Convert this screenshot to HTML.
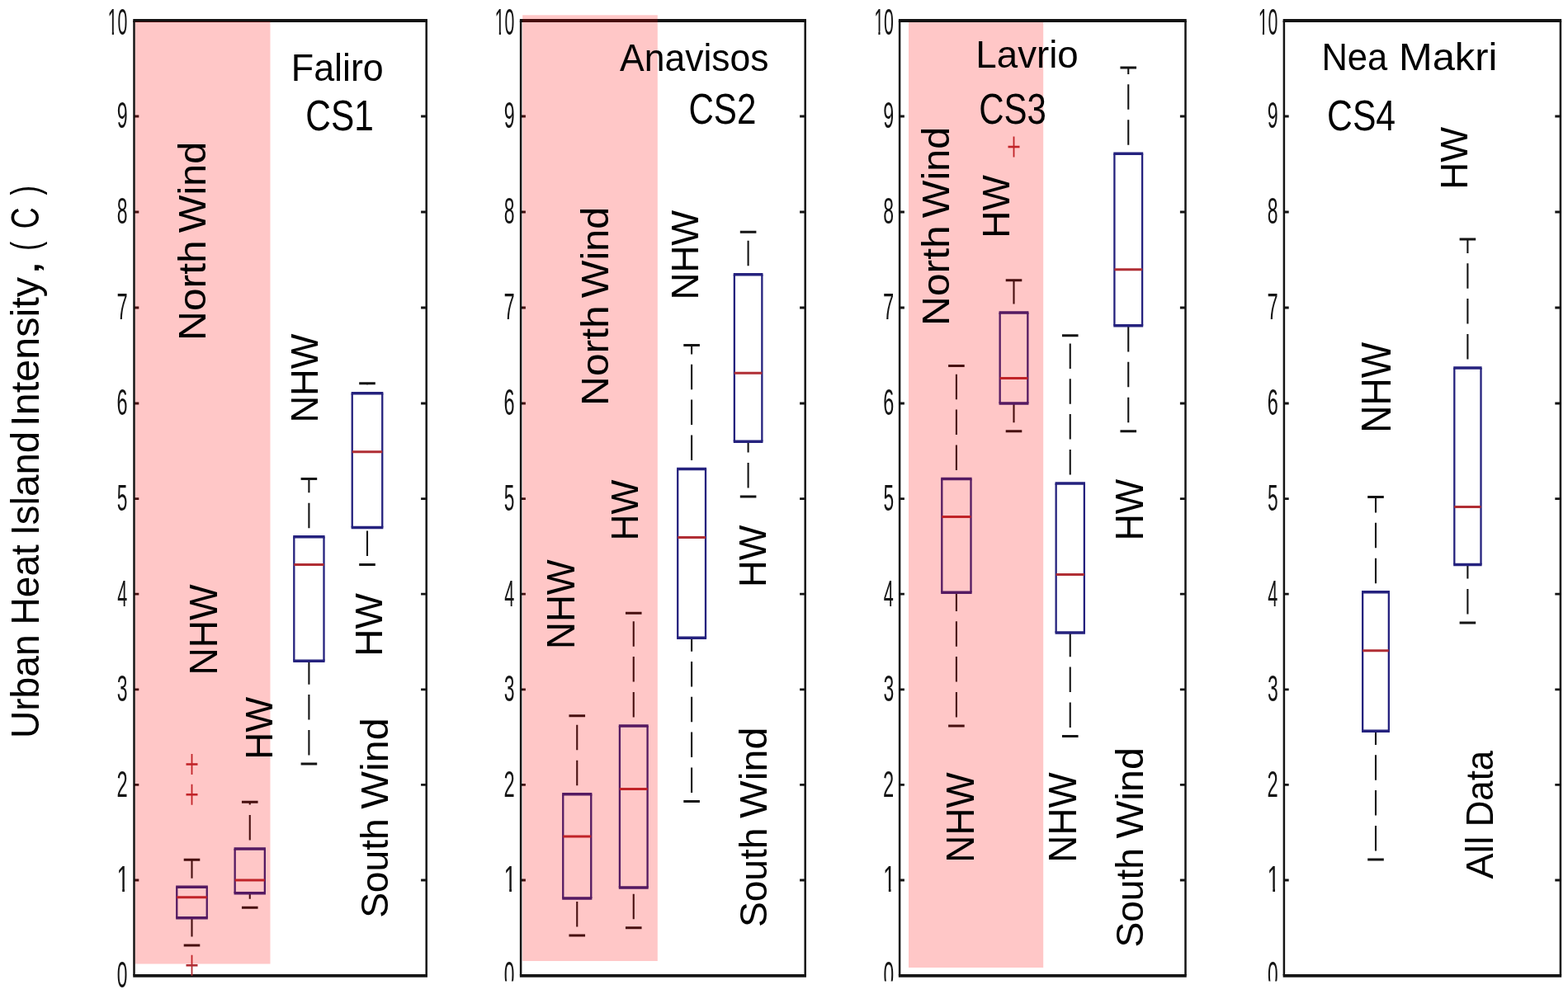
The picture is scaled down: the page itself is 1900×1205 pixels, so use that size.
<!DOCTYPE html>
<html lang="en">
<head>
<meta charset="utf-8">
<title>Urban Heat Island Intensity box plots</title>
<style>
html,body{margin:0;padding:0;background:#fff;}
body{width:1900px;height:1205px;overflow:hidden;}
svg{display:block;}
svg text{font-family:"Liberation Sans",sans-serif;font-size:200px;white-space:pre;}
svg path{fill:none;}
.tl{fill:#141414;}
.axv{stroke:#141414;stroke-width:2.5;}
.axh{stroke:#141414;stroke-width:3.8;}
.tick{stroke:#141414;stroke-width:2.8;}
.wh{stroke:#141414;stroke-width:2.1;}
.cap{stroke:#141414;stroke-width:3.2;}
.bv{stroke:#25227e;stroke-width:2.3;}
.bh{stroke:#25227e;stroke-width:3.3;}
.med{stroke:#b02e34;stroke-width:3.0;}
.oh{stroke:#b02e34;stroke-width:2.6;}
.ov{stroke:#b02e34;stroke-width:1.8;}
.pink{fill:#ff0000;fill-opacity:0.22;}
</style>
</head>
<body>
<svg width="1900" height="1205" viewBox="0 0 1900 1205">
<defs><clipPath id="clip0"><rect x="0" y="0" width="1900" height="1189.5"/></clipPath><clipPath id="c1"><rect x="0" y="-160" width="120" height="140"/><rect x="49" y="-21" width="20" height="24"/></clipPath><clipPath id="c10"><rect x="0" y="-160" width="240" height="140"/><rect x="49" y="-21" width="20" height="24"/><rect x="108" y="-21" width="130" height="34"/></clipPath></defs>
<rect width="1900" height="1205" fill="#fff"/>
<g id="ylabel"><text transform="matrix(0 -0.23075 0.24058 0 47.00 895.06)" fill="#000">Urban</text><text transform="matrix(0 -0.23037 0.24058 0 47.00 757.39)" fill="#000">Heat</text><text transform="matrix(0 -0.23718 0.24058 0 47.00 649.37)" fill="#000">Island</text><text transform="matrix(0 -0.24311 0.24058 0 47.00 516.88)" fill="#000">Intensity</text><text transform="matrix(0 -0.33684 0.24058 0 47.00 334.10)" fill="#000">,</text><text transform="matrix(0 -0.16604 0.24058 0 47.00 303.79)" fill="#000">(</text><text transform="matrix(0 -0.17857 0.24058 0 47.00 277.29)" fill="#000">C</text><text transform="matrix(0 -0.17308 0.24058 0 47.00 236.45)" fill="#000">)</text></g>
<g id="panel1">
<path class="axv" d="M162.50 25.00V1182.60M516.70 25.00V1182.60"/>
<path class="axh" d="M161.25 25.00H517.95M161.25 1182.90H517.95"/>
<path class="tick" d="M162.50 1182.60h5.8M516.70 1182.60h-6.6M162.50 1067.00h5.8M516.70 1067.00h-6.6M162.50 951.40h5.8M516.70 951.40h-6.6M162.50 835.80h5.8M516.70 835.80h-6.6M162.50 720.20h5.8M516.70 720.20h-6.6M162.50 604.60h5.8M516.70 604.60h-6.6M162.50 489.00h5.8M516.70 489.00h-6.6M162.50 373.00h5.8M516.70 373.00h-6.6M162.50 257.00h5.8M516.70 257.00h-6.6M162.50 141.00h5.8M516.70 141.00h-6.6M162.50 25.00h5.8M516.70 25.00h-6.6"/>
<text class="tl" transform="matrix(0.11368 0 0 0.22535 141.79 1196.95)">0</text>
<text class="tl" transform="matrix(0.13673 0 0 0.22535 141.50 1081.35)" clip-path="url(#c1)">1</text>
<text class="tl" transform="matrix(0.11868 0 0 0.22535 141.51 965.75)">2</text>
<text class="tl" transform="matrix(0.11489 0 0 0.22535 141.78 850.15)">3</text>
<text class="tl" transform="matrix(0.10800 0 0 0.22535 142.16 734.55)">4</text>
<text class="tl" transform="matrix(0.11368 0 0 0.22535 141.79 618.95)">5</text>
<text class="tl" transform="matrix(0.11739 0 0 0.22535 141.53 503.35)">6</text>
<text class="tl" transform="matrix(0.11868 0 0 0.22535 141.51 387.35)">7</text>
<text class="tl" transform="matrix(0.11489 0 0 0.22535 141.67 271.35)">8</text>
<text class="tl" transform="matrix(0.11613 0 0 0.22535 141.65 155.35)">9</text>
<text class="tl" transform="matrix(0.10663 0 0 0.22535 130.57 42.05)" clip-path="url(#c10)">10</text>
<path class="wh" d="M232.50 1064.65V1042.25M232.50 1135.40V1112.75"/>
<path class="cap" d="M222.70 1042.25h19.6M222.70 1146.00h19.6"/>
<path class="bv" d="M214.25 1075.25V1112.75M250.75 1075.25V1112.75"/>
<path class="bh" d="M213.15 1075.25H251.85M213.15 1112.75H251.85"/>
<path class="med" d="M214.25 1087.75H250.75"/>
<path class="oh" d="M225.50 926.50h14"/><path class="ov" d="M232.50 914.00v25"/>
<path class="oh" d="M225.50 963.25h14"/><path class="ov" d="M232.50 950.75v25"/>
<path class="oh" d="M225.50 1170.25h14"/><path class="ov" d="M232.50 1157.75v25"/>
<path class="wh" d="M302.75 1018.40V987.90M302.75 975.60V972.25M302.75 1089.65V1082.75"/>
<path class="cap" d="M292.95 972.25h19.6M292.95 1100.25h19.6"/>
<path class="bv" d="M284.65 1029.00V1082.75M320.85 1029.00V1082.75"/>
<path class="bh" d="M283.55 1029.00H321.95M283.55 1082.75H321.95"/>
<path class="med" d="M284.65 1067.00H320.85"/>
<path class="wh" d="M374.40 640.15V609.65M374.40 597.35V580.50M374.40 915.40V884.90M374.40 872.60V842.10M374.40 829.80V801.25"/>
<path class="cap" d="M364.60 580.50h19.6M364.60 926.00h19.6"/>
<path class="bv" d="M356.30 650.75V801.25M392.50 650.75V801.25"/>
<path class="bh" d="M355.20 650.75H393.60M355.20 801.25H393.60"/>
<path class="med" d="M356.30 684.50H392.50"/>
<path class="wh" d="M445.00 466.15V464.75M445.00 673.90V643.40"/>
<path class="cap" d="M435.20 464.75h19.6M435.20 684.50h19.6"/>
<path class="bv" d="M426.75 476.75V639.50M463.25 476.75V639.50"/>
<path class="bh" d="M425.65 476.75H464.35M425.65 639.50H464.35"/>
<path class="med" d="M426.75 547.75H463.25"/>
<rect class="pink" x="163.8" y="26.0" width="163.70" height="1142.50"/>
<text transform="matrix(0.22395 0 0 0.23333 352.82 97.90)" fill="#000">Faliro</text>
<text transform="matrix(0.21192 0 0 0.25725 370.28 157.80)" fill="#000">CS1</text>
<text transform="matrix(0 -0.24870 0.23478 0 248.60 412.98)" fill="#000">North</text><text transform="matrix(0 -0.24208 0.23478 0 248.60 282.14)" fill="#000">Wind</text>
<text transform="matrix(0 -0.23059 0.23623 0 262.80 818.49)" fill="#000">NHW</text>
<text transform="matrix(0 -0.22785 0.23478 0 329.60 920.65)" fill="#000">HW</text>
<text transform="matrix(0 -0.22603 0.23551 0 385.00 512.62)" fill="#000">NHW</text>
<text transform="matrix(0 -0.22943 0.23551 0 463.30 795.67)" fill="#000">HW</text>
<text transform="matrix(0 -0.23054 0.23478 0 469.60 1112.87)" fill="#000">South</text><text transform="matrix(0 -0.24208 0.23478 0 469.60 980.74)" fill="#000">Wind</text>
</g>
<g id="panel2">
<path class="axv" d="M631.10 25.00V1182.60M975.70 25.00V1182.60"/>
<path class="axh" d="M629.85 25.00H976.95M629.85 1182.90H976.95"/>
<path class="tick" d="M631.10 1182.60h5.8M975.70 1182.60h-6.6M631.10 1067.00h5.8M975.70 1067.00h-6.6M631.10 951.40h5.8M975.70 951.40h-6.6M631.10 835.80h5.8M975.70 835.80h-6.6M631.10 720.20h5.8M975.70 720.20h-6.6M631.10 604.60h5.8M975.70 604.60h-6.6M631.10 489.00h5.8M975.70 489.00h-6.6M631.10 373.00h5.8M975.70 373.00h-6.6M631.10 257.00h5.8M975.70 257.00h-6.6M631.10 141.00h5.8M975.70 141.00h-6.6M631.10 25.00h5.8M975.70 25.00h-6.6"/>
<g clip-path="url(#clip0)"><text class="tl" transform="matrix(0.11368 0 0 0.22535 610.79 1196.95)">0</text></g>
<text class="tl" transform="matrix(0.13673 0 0 0.22535 610.50 1081.35)" clip-path="url(#c1)">1</text>
<text class="tl" transform="matrix(0.11868 0 0 0.22535 610.51 965.75)">2</text>
<text class="tl" transform="matrix(0.11489 0 0 0.22535 610.78 850.15)">3</text>
<text class="tl" transform="matrix(0.10800 0 0 0.22535 611.16 734.55)">4</text>
<text class="tl" transform="matrix(0.11368 0 0 0.22535 610.79 618.95)">5</text>
<text class="tl" transform="matrix(0.11739 0 0 0.22535 610.53 503.35)">6</text>
<text class="tl" transform="matrix(0.11868 0 0 0.22535 610.51 387.35)">7</text>
<text class="tl" transform="matrix(0.11489 0 0 0.22535 610.67 271.35)">8</text>
<text class="tl" transform="matrix(0.11613 0 0 0.22535 610.65 155.35)">9</text>
<text class="tl" transform="matrix(0.10663 0 0 0.22535 599.57 42.05)" clip-path="url(#c10)">10</text>
<path class="wh" d="M699.25 952.15V921.65M699.25 909.35V878.85M699.25 1123.40V1092.90"/>
<path class="cap" d="M689.45 867.75h19.6M689.45 1134.00h19.6"/>
<path class="bv" d="M682.25 962.75V1089.00M716.25 962.75V1089.00"/>
<path class="bh" d="M681.15 962.75H717.35M681.15 1089.00H717.35"/>
<path class="med" d="M682.25 1014.00H716.25"/>
<path class="wh" d="M767.75 869.40V838.90M767.75 826.60V796.10M767.75 783.80V753.30M767.75 1114.15V1083.65"/>
<path class="cap" d="M757.95 743.25h19.6M757.95 1124.75h19.6"/>
<path class="bv" d="M750.90 880.00V1076.00M784.60 880.00V1076.00"/>
<path class="bh" d="M749.80 880.00H785.70M749.80 1076.00H785.70"/>
<path class="med" d="M750.90 956.50H784.60"/>
<path class="wh" d="M838.10 557.90V527.40M838.10 515.10V484.60M838.10 472.30V441.80M838.10 429.50V418.50M838.10 960.90V930.40M838.10 918.10V887.60M838.10 875.30V844.80M838.10 832.50V802.00M838.10 789.70V773.25"/>
<path class="cap" d="M828.30 418.50h19.6M828.30 971.50h19.6"/>
<path class="bv" d="M821.20 568.50V773.25M855.00 568.50V773.25"/>
<path class="bh" d="M820.10 568.50H856.10M820.10 773.25H856.10"/>
<path class="med" d="M821.20 651.50H855.00"/>
<path class="wh" d="M906.60 322.15V291.65M906.60 591.40V560.90M906.60 548.60V535.25"/>
<path class="cap" d="M896.80 281.25h19.6M896.80 602.00h19.6"/>
<path class="bv" d="M889.85 332.75V535.25M923.35 332.75V535.25"/>
<path class="bh" d="M888.75 332.75H924.45M888.75 535.25H924.45"/>
<path class="med" d="M889.85 452.25H923.35"/>
<rect class="pink" x="633.2" y="18.3" width="163.60" height="1146.70"/>
<text transform="matrix(0.22242 0 0 0.23043 751.08 85.70)" fill="#000">Anavisos</text>
<text transform="matrix(0.21057 0 0 0.25652 834.39 149.60)" fill="#000">CS2</text>
<text transform="matrix(0 -0.24870 0.23478 0 737.20 491.98)" fill="#000">North</text><text transform="matrix(0 -0.24208 0.23478 0 737.20 361.14)" fill="#000">Wind</text>
<text transform="matrix(0 -0.22733 0.23551 0 846.30 363.44)" fill="#000">NHW</text>
<text transform="matrix(0 -0.22152 0.23551 0 773.00 655.54)" fill="#000">HW</text>
<text transform="matrix(0 -0.22777 0.24130 0 696.30 786.94)" fill="#000">NHW</text>
<text transform="matrix(0 -0.22563 0.23551 0 927.50 711.91)" fill="#000">HW</text>
<text transform="matrix(0 -0.23054 0.23478 0 928.60 1124.07)" fill="#000">South</text><text transform="matrix(0 -0.24208 0.23478 0 928.60 991.94)" fill="#000">Wind</text>
</g>
<g id="panel3">
<path class="axv" d="M1090.10 25.00V1182.60M1436.50 25.00V1182.60"/>
<path class="axh" d="M1088.85 25.00H1437.75M1088.85 1182.90H1437.75"/>
<path class="tick" d="M1090.10 1182.60h5.8M1436.50 1182.60h-6.6M1090.10 1067.00h5.8M1436.50 1067.00h-6.6M1090.10 951.40h5.8M1436.50 951.40h-6.6M1090.10 835.80h5.8M1436.50 835.80h-6.6M1090.10 720.20h5.8M1436.50 720.20h-6.6M1090.10 604.60h5.8M1436.50 604.60h-6.6M1090.10 489.00h5.8M1436.50 489.00h-6.6M1090.10 373.00h5.8M1436.50 373.00h-6.6M1090.10 257.00h5.8M1436.50 257.00h-6.6M1090.10 141.00h5.8M1436.50 141.00h-6.6M1090.10 25.00h5.8M1436.50 25.00h-6.6"/>
<g clip-path="url(#clip0)"><text class="tl" transform="matrix(0.11368 0 0 0.22535 1070.39 1196.95)">0</text></g>
<text class="tl" transform="matrix(0.13673 0 0 0.22535 1070.10 1081.35)" clip-path="url(#c1)">1</text>
<text class="tl" transform="matrix(0.11868 0 0 0.22535 1070.11 965.75)">2</text>
<text class="tl" transform="matrix(0.11489 0 0 0.22535 1070.38 850.15)">3</text>
<text class="tl" transform="matrix(0.10800 0 0 0.22535 1070.76 734.55)">4</text>
<text class="tl" transform="matrix(0.11368 0 0 0.22535 1070.39 618.95)">5</text>
<text class="tl" transform="matrix(0.11739 0 0 0.22535 1070.13 503.35)">6</text>
<text class="tl" transform="matrix(0.11868 0 0 0.22535 1070.11 387.35)">7</text>
<text class="tl" transform="matrix(0.11489 0 0 0.22535 1070.27 271.35)">8</text>
<text class="tl" transform="matrix(0.11613 0 0 0.22535 1070.25 155.35)">9</text>
<text class="tl" transform="matrix(0.10663 0 0 0.22535 1059.17 42.05)" clip-path="url(#c10)">10</text>
<path class="wh" d="M1158.90 569.90V539.40M1158.90 527.10V496.60M1158.90 484.30V453.80M1158.90 869.40V838.90M1158.90 826.60V796.10M1158.90 783.80V753.30M1158.90 741.00V718.25"/>
<path class="cap" d="M1149.10 443.50h19.6M1149.10 880.00h19.6"/>
<path class="bv" d="M1141.30 580.50V718.25M1176.50 580.50V718.25"/>
<path class="bh" d="M1140.20 580.50H1177.60M1140.20 718.25H1177.60"/>
<path class="med" d="M1141.30 626.50H1176.50"/>
<path class="wh" d="M1228.50 368.40V339.75M1228.50 512.15V489.00"/>
<path class="cap" d="M1218.70 339.75h19.6M1218.70 522.75h19.6"/>
<path class="bv" d="M1211.65 379.00V489.00M1245.35 379.00V489.00"/>
<path class="bh" d="M1210.55 379.00H1246.45M1210.55 489.00H1246.45"/>
<path class="med" d="M1211.65 458.50H1245.35"/>
<path class="oh" d="M1221.50 178.00h14"/><path class="ov" d="M1228.50 165.50v25"/>
<path class="wh" d="M1296.75 575.40V544.90M1296.75 532.60V502.10M1296.75 489.80V459.30M1296.75 447.00V416.50M1296.75 881.90V851.40M1296.75 839.10V808.60M1296.75 796.30V767.00"/>
<path class="cap" d="M1286.95 406.75h19.6M1286.95 892.50h19.6"/>
<path class="bv" d="M1279.65 586.00V767.00M1313.85 586.00V767.00"/>
<path class="bh" d="M1278.55 586.00H1314.95M1278.55 767.00H1314.95"/>
<path class="med" d="M1279.65 696.50H1313.85"/>
<path class="wh" d="M1367.25 175.65V145.15M1367.25 132.85V102.35M1367.25 90.05V82.00M1367.25 512.15V481.65M1367.25 469.35V438.85M1367.25 426.55V396.05"/>
<path class="cap" d="M1357.45 82.00h19.6M1357.45 522.75h19.6"/>
<path class="bv" d="M1350.40 186.25V394.75M1384.10 186.25V394.75"/>
<path class="bh" d="M1349.30 186.25H1385.20M1349.30 394.75H1385.20"/>
<path class="med" d="M1350.40 326.75H1384.10"/>
<rect class="pink" x="1101.0" y="27.0" width="163.20" height="1146.00"/>
<text transform="matrix(0.22846 0 0 0.23406 1182.34 82.30)" fill="#000">Lavrio</text>
<text transform="matrix(0.21000 0 0 0.25942 1186.20 149.90)" fill="#000">CS3</text>
<text transform="matrix(0 -0.24870 0.23478 0 1149.80 394.98)" fill="#000">North</text><text transform="matrix(0 -0.24208 0.23478 0 1149.80 264.14)" fill="#000">Wind</text>
<text transform="matrix(0 -0.22943 0.23551 0 1222.50 288.67)" fill="#000">HW</text>
<text transform="matrix(0 -0.22885 0.24420 0 1180.00 1045.66)" fill="#000">NHW</text>
<text transform="matrix(0 -0.22885 0.24493 0 1303.80 1045.66)" fill="#000">NHW</text>
<text transform="matrix(0 -0.22468 0.24420 0 1385.00 655.59)" fill="#000">HW</text>
<text transform="matrix(0 -0.23054 0.23478 0 1384.80 1148.57)" fill="#000">South</text><text transform="matrix(0 -0.24208 0.23478 0 1384.80 1016.44)" fill="#000">Wind</text>
</g>
<g id="panel4">
<path class="axv" d="M1555.90 25.00V1182.60M1890.90 25.00V1182.60"/>
<path class="axh" d="M1554.65 25.00H1892.15M1554.65 1182.90H1892.15"/>
<path class="tick" d="M1555.90 1182.60h5.8M1890.90 1182.60h-6.6M1555.90 1067.00h5.8M1890.90 1067.00h-6.6M1555.90 951.40h5.8M1890.90 951.40h-6.6M1555.90 835.80h5.8M1890.90 835.80h-6.6M1555.90 720.20h5.8M1890.90 720.20h-6.6M1555.90 604.60h5.8M1890.90 604.60h-6.6M1555.90 489.00h5.8M1890.90 489.00h-6.6M1555.90 373.00h5.8M1890.90 373.00h-6.6M1555.90 257.00h5.8M1890.90 257.00h-6.6M1555.90 141.00h5.8M1890.90 141.00h-6.6M1555.90 25.00h5.8M1890.90 25.00h-6.6"/>
<g clip-path="url(#clip0)"><text class="tl" transform="matrix(0.11368 0 0 0.22535 1535.89 1196.95)">0</text></g>
<text class="tl" transform="matrix(0.13673 0 0 0.22535 1535.60 1081.35)" clip-path="url(#c1)">1</text>
<text class="tl" transform="matrix(0.11868 0 0 0.22535 1535.61 965.75)">2</text>
<text class="tl" transform="matrix(0.11489 0 0 0.22535 1535.88 850.15)">3</text>
<text class="tl" transform="matrix(0.10800 0 0 0.22535 1536.26 734.55)">4</text>
<text class="tl" transform="matrix(0.11368 0 0 0.22535 1535.89 618.95)">5</text>
<text class="tl" transform="matrix(0.11739 0 0 0.22535 1535.63 503.35)">6</text>
<text class="tl" transform="matrix(0.11868 0 0 0.22535 1535.61 387.35)">7</text>
<text class="tl" transform="matrix(0.11489 0 0 0.22535 1535.77 271.35)">8</text>
<text class="tl" transform="matrix(0.11613 0 0 0.22535 1535.75 155.35)">9</text>
<text class="tl" transform="matrix(0.10663 0 0 0.22535 1524.67 42.05)" clip-path="url(#c10)">10</text>
<path class="wh" d="M1667.00 707.15V676.65M1667.00 664.35V633.85M1667.00 621.55V602.50M1667.00 1031.40V1000.90M1667.00 988.60V958.10M1667.00 945.80V915.30M1667.00 903.00V886.25"/>
<path class="cap" d="M1657.20 602.50h19.6M1657.20 1042.00h19.6"/>
<path class="bv" d="M1651.15 717.75V886.25M1682.85 717.75V886.25"/>
<path class="bh" d="M1650.05 717.75H1683.95M1650.05 886.25H1683.95"/>
<path class="med" d="M1651.15 788.75H1682.85"/>
<path class="wh" d="M1778.40 435.40V404.90M1778.40 392.60V362.10M1778.40 349.80V319.30M1778.40 307.00V290.00M1778.40 744.40V713.90M1778.40 701.60V684.50"/>
<path class="cap" d="M1768.60 290.00h19.6M1768.60 755.00h19.6"/>
<path class="bv" d="M1762.30 446.00V684.50M1794.50 446.00V684.50"/>
<path class="bh" d="M1761.20 446.00H1795.60M1761.20 684.50H1795.60"/>
<path class="med" d="M1762.30 614.50H1794.50"/>
<text transform="matrix(0.21738 0 0 0.23043 1601.42 85.20)" fill="#000">Nea</text><text transform="matrix(0.24423 0 0 0.23043 1694.99 85.20)" fill="#000">Makri</text>
<text transform="matrix(0.21340 0 0 0.25942 1608.07 158.00)" fill="#000">CS4</text>
<text transform="matrix(0 -0.22785 0.23551 0 1777.50 229.65)" fill="#000">HW</text>
<text transform="matrix(0 -0.22993 0.24638 0 1685.00 524.68)" fill="#000">NHW</text>
<text transform="matrix(0 -0.23317 0.23188 0 1809.10 1065.53)" fill="#000">All</text><text transform="matrix(0 -0.21897 0.23188 0 1809.10 1002.30)" fill="#000">Data</text>
</g>
</svg>
</body>
</html>
